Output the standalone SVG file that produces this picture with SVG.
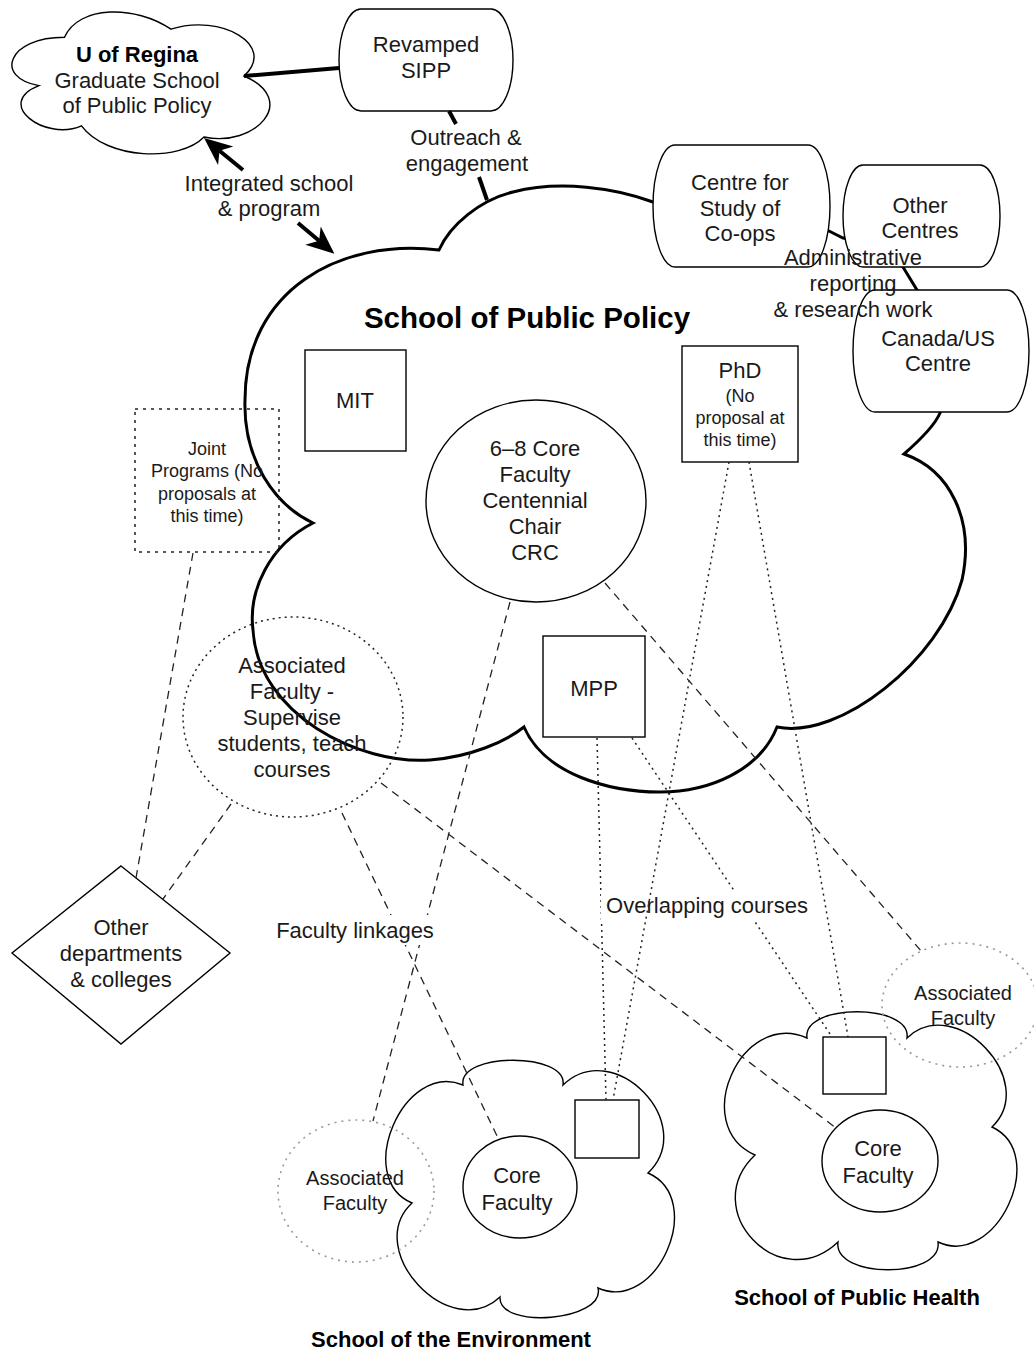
<svg xmlns="http://www.w3.org/2000/svg" width="1034" height="1352" viewBox="0 0 1034 1352">
<style>
text{font-family:"Liberation Sans",Arial,Helvetica,sans-serif;font-size:22px;fill:#1a1a1a;text-anchor:middle}
.sm{font-size:18px}
.md{font-size:20px}
.b{font-weight:bold;fill:#000}
.title{font-weight:bold;font-size:29.5px;fill:#000}
.shape{fill:#fff;stroke:#000;stroke-width:1.4}
.bigcloud{fill:#fff;stroke:#000;stroke-width:3}
.thick{fill:none;stroke:#000;stroke-width:4}
.dash{fill:none;stroke:#222;stroke-width:1.3;stroke-dasharray:8 6}
.dot{fill:none;stroke:#222;stroke-width:1.5;stroke-dasharray:2 4}
.dotbox{fill:none;stroke:#222;stroke-width:1.5;stroke-dasharray:3 5}
.grayell{fill:none;stroke:#999;stroke-width:1.6;stroke-dasharray:2 5}
.lblbg{fill:#fff;stroke:none}
</style>
<defs>
<marker id="arr" markerUnits="userSpaceOnUse" markerWidth="30" markerHeight="26" refX="8" refY="12" orient="auto">
<path d="M0,0 L28,12 L0,24 L8,12 Z" fill="#000"/>
</marker>
</defs>
<rect width="1034" height="1352" fill="#fff"/>

<g id="school-public-policy">
<path class="bigcloud" d="M439 250 C340 238 245 290 245 400 C243 460 275 505 313 523 C270 545 248 590 253 630 C258 715 360 765 430 760 C470 757 505 742 524 727 C545 775 610 792 660 792 C710 792 760 770 777 727 C840 740 940 660 962 580 C975 520 950 470 904 454 C920 440 935 425 940 413 C960 370 940 310 917 290 L903 267 C880 250 860 240 843 238 L827 230 C760 200 700 195 653 202 C615 188 560 180 513 192 C480 200 450 225 439 250 Z"/>
<text class="title" x="527" y="328">School of Public Policy</text>
</g>

<g id="school-environment">
<path class="shape" d="M463 1085 C458 1052 568 1052 563 1085 C614 1036 699 1124 648 1173 C707 1199 657 1314 598 1288 C606 1321 498 1330 500 1297 C450 1344 362 1250 412 1203 C353 1178 404 1060 463 1085 Z"/>
<text class="b" x="451" y="1347">School of the Environment</text>
</g>

<g id="school-public-health">
<path class="shape" d="M807 1038 C802 1003 912 1003 907 1038 C955 992 1040 1081 992 1127 C1050 1154 996 1269 938 1242 C943 1279 833 1279 838 1242 C780 1297 697 1210 755 1155 C689 1126 741 1009 807 1038 Z"/>
<text class="b" x="857" y="1305">School of Public Health</text>
</g>

<g id="u-of-regina">
<path class="shape" d="M64.5 37.3 C7.7 37.3 -6.5 77.5 38.9 85.6 C-6.5 103.3 44.6 141.9 81.5 125.8 C107 160 180 162 204 137 C255 148 300 100 244 76 C277.5 45.3 220.7 13.1 171 29.2 C135.5 5 78.7 5 64.5 37.3 Z"/>
<text class="b" x="137" y="62">U of Regina</text>
<text x="137" y="88">Graduate School</text>
<text x="137" y="113">of Public Policy</text>
</g>

<g id="revamped-sipp">
<rect class="shape" x="339" y="9" width="174" height="102" rx="22" ry="51"/>
<text x="426" y="52">Revamped</text>
<text x="426" y="78">SIPP</text>
</g>

<g id="centre-coops">
<rect class="shape" x="653" y="145" width="177" height="122" rx="22" ry="61"/>
<text x="740" y="190">Centre for</text>
<text x="740" y="216">Study of</text>
<text x="740" y="241">Co-ops</text>
</g>

<g id="other-centres">
<rect class="shape" x="843" y="165" width="157" height="102" rx="20" ry="51"/>
<text x="920" y="213">Other</text>
<text x="920" y="238">Centres</text>
</g>

<g id="canada-us">
<rect class="shape" x="853" y="290" width="176" height="122" rx="22" ry="61"/>
<text x="938" y="346">Canada/US</text>
<text x="938" y="371">Centre</text>
</g>

<g id="admin-label">
<text x="853" y="265">Administrative</text>
<text x="853" y="291">reporting</text>
<text x="853" y="317">&amp; research work</text>
</g>

<g id="mit">
<rect class="shape" x="305" y="350" width="101" height="101"/>
<text x="355" y="408">MIT</text>
</g>

<g id="phd">
<rect class="shape" x="682" y="346" width="116" height="116"/>
<text x="740" y="378">PhD</text>
<text class="sm" x="740" y="402">(No</text>
<text class="sm" x="740" y="424">proposal at</text>
<text class="sm" x="740" y="446">this time)</text>
</g>

<g id="core-faculty-spp">
<ellipse class="shape" cx="536" cy="501" rx="110" ry="101"/>
<text x="535" y="456">6–8 Core</text>
<text x="535" y="482">Faculty</text>
<text x="535" y="508">Centennial</text>
<text x="535" y="534">Chair</text>
<text x="535" y="560">CRC</text>
</g>

<g id="mpp">
<rect class="shape" x="543" y="636" width="102" height="101"/>
<text x="594" y="696">MPP</text>
</g>

<g id="joint-programs">
<rect class="dotbox" x="135" y="409" width="144" height="143"/>
<text class="sm" x="207" y="455">Joint</text>
<text class="sm" x="207" y="477">Programs (No</text>
<text class="sm" x="207" y="500">proposals at</text>
<text class="sm" x="207" y="522">this time)</text>
</g>

<g id="associated-faculty-spp">
<ellipse class="dot" cx="293" cy="717" rx="110" ry="100" stroke="#333"/>
<text x="292" y="673">Associated</text>
<text x="292" y="699">Faculty -</text>
<text x="292" y="725">Supervise</text>
<text x="292" y="751">students, teach</text>
<text x="292" y="777">courses</text>
</g>

<g id="other-departments">
<path class="shape" d="M121 866 L230 953 L121 1044 L12 953 Z"/>
<text x="121" y="935">Other</text>
<text x="121" y="961">departments</text>
<text x="121" y="987">&amp; colleges</text>
</g>

<g id="env-course-box">
<rect class="shape" x="575" y="1100" width="64" height="58"/>
</g>
<g id="env-core-faculty">
<ellipse class="shape" cx="520" cy="1187" rx="57" ry="51"/>
<text x="517" y="1183">Core</text>
<text x="517" y="1210">Faculty</text>
</g>
<g id="env-associated">
<ellipse class="grayell" cx="356" cy="1191" rx="78" ry="71"/>
<text class="md" x="355" y="1185">Associated</text>
<text class="md" x="355" y="1210">Faculty</text>
</g>

<g id="health-course-box">
<rect class="shape" x="823" y="1037" width="63" height="57"/>
</g>
<g id="health-core-faculty">
<ellipse class="shape" cx="880" cy="1161" rx="58" ry="51"/>
<text x="878" y="1156">Core</text>
<text x="878" y="1183">Faculty</text>
</g>
<g id="health-associated">
<ellipse class="grayell" cx="960" cy="1005" rx="78" ry="62"/>
<text class="md" x="963" y="1000">Associated</text>
<text class="md" x="963" y="1025">Faculty</text>
</g>

<g id="connectors">
<line class="thick" x1="244" y1="76" x2="339" y2="68"/>
<line class="thick" x1="449" y1="111" x2="456" y2="124"/>
<line class="thick" x1="479" y1="177" x2="487" y2="200"/>
<line class="thick" x1="298" y1="223" x2="319.1" y2="240.8" marker-end="url(#arr)"/>
<line class="thick" x1="243" y1="170" x2="219.5" y2="150.7" marker-end="url(#arr)"/>
<text x="466" y="145">Outreach &amp;</text>
<text x="467" y="171">engagement</text>
<text x="269" y="191">Integrated school</text>
<text x="269" y="216">&amp; program</text>

<line class="dash" x1="193" y1="553" x2="136" y2="878"/>
<line class="dash" x1="231" y1="804" x2="163" y2="899"/>
<line class="dash" x1="342" y1="813" x2="498" y2="1138"/>
<line class="dash" x1="381" y1="783" x2="836" y2="1128"/>
<line class="dash" x1="510" y1="602" x2="373" y2="1121"/>
<line class="dash" x1="605" y1="583" x2="922" y2="952"/>
<rect class="lblbg" x="273" y="915" width="165" height="30"/>
<text x="355" y="938">Faculty linkages</text>

<line class="dot" x1="597" y1="738" x2="606" y2="1100"/>
<line class="dot" x1="632" y1="738" x2="832" y2="1037"/>
<line class="dot" x1="749" y1="462" x2="848" y2="1037"/>
<rect class="lblbg" x="601" y="890" width="211" height="30"/>
<text x="707" y="913">Overlapping courses</text>
<line class="dot" x1="729" y1="462" x2="613" y2="1100"/>
</g>
</svg>
